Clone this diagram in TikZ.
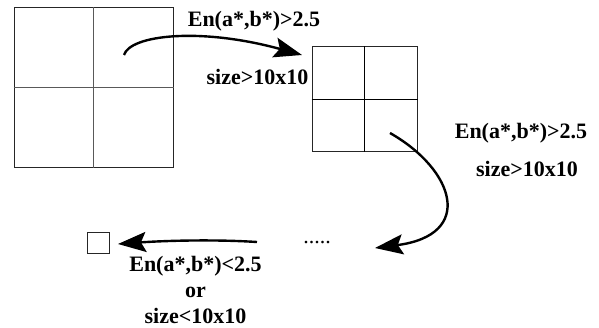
\documentclass[tikz,border=0pt]{standalone}
\usepackage{fontspec}
\setmainfont{Liberation Serif}
\usetikzlibrary{arrows.meta,positioning,calc}

\begin{document}
\begin{tikzpicture}[
    x=0.5pt,
    y=0.5pt,
    font=\fontsize{11}{13}\selectfont\bfseries,
    block/.style={rectangle, draw=black!85, line width=0.5pt, inner sep=0pt},
    flow/.style={-{Stealth[length=14pt,width=10pt,inset=2.5pt]}, line width=1.2pt},
    cond/.style={inner sep=0pt, align=center}
  ]
    \useasboundingbox (0,0) rectangle (599,327);

    \node[block, minimum width=79.5pt, minimum height=79.5pt] (big) at (93.5,239.5) {};
    \draw[black!65, line width=0.5pt] (big.north) -- (big.south);
    \draw[black!65, line width=0.5pt] (big.west) -- (big.east);

    \node[block, minimum width=52.5pt, minimum height=52.5pt] (mid) at (364.5,227.5) {};
    \draw[line width=0.5pt] (mid.north) -- (mid.south);
    \draw[line width=0.5pt] (mid.west) -- (mid.east);

    \node[block, minimum width=11pt, minimum height=10.5pt] (tiny) at (98,84.5) {};
    \node[inner sep=0pt, font=\fontsize{11}{13}\selectfont] (dots) at (317,84) {.....};

    \coordinate (s1) at (124,272);
    \coordinate (e1) at (302,272);
    \coordinate (s2) at (390,194);
    \coordinate (e2) at (375,79);
    \coordinate (s3) at (257,85);
    \coordinate (e3) at (118,83);

    \draw[flow] (s1) .. controls (130,292) and (200,300) .. (e1);
    \draw[flow] (s2) .. controls (455,157) and (475,92) .. (e2);
    \draw[flow] (s3) .. controls (210,88) and (160,86) .. (e3);

    \node[cond] (up1) at (254,306) {En(a*,b*)>2.5};
    \node[cond] (up2) at (257.5,250) {size>10x10};
    \node[cond] (rt1) at (521,194) {En(a*,b*)>2.5};
    \node[cond] (rt2) at (527,158) {size>10x10};
    \node[cond] (dn) at (195.5,37) {En(a*,b*)<2.5\\or\\size<10x10};
  \end{tikzpicture}
\end{document}
